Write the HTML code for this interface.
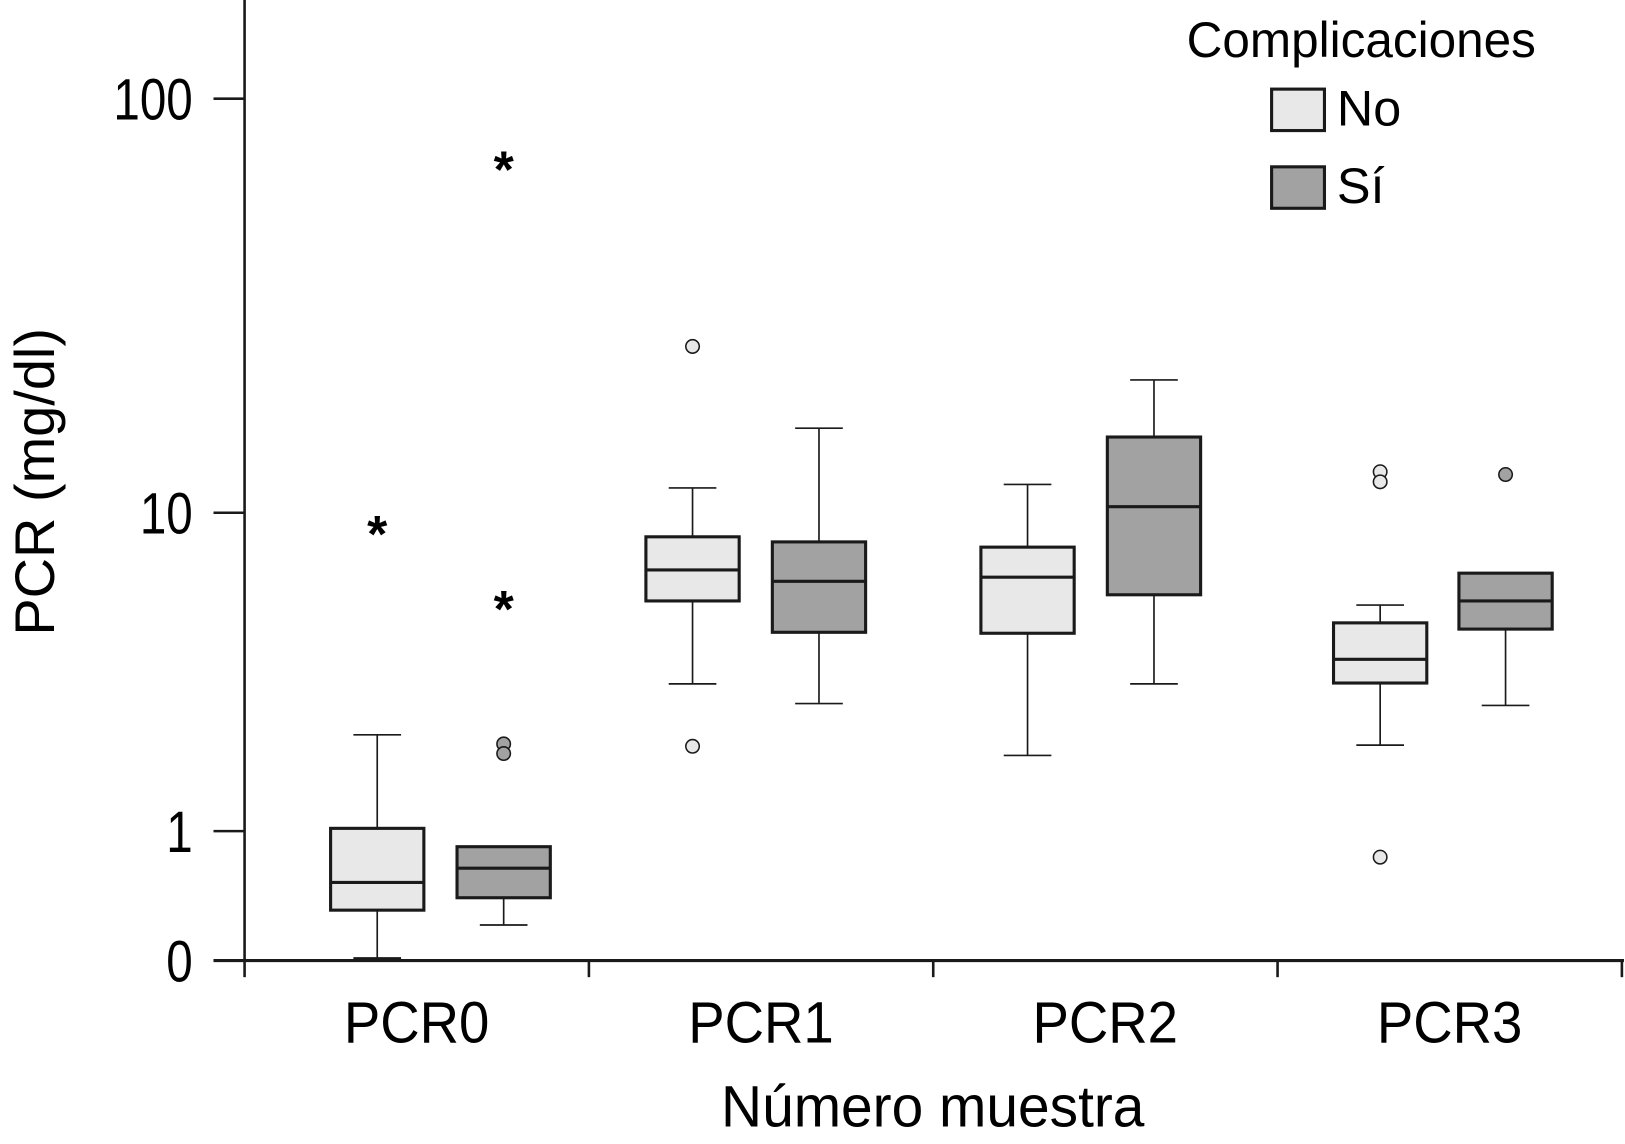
<!DOCTYPE html>
<html><head><meta charset="utf-8"><style>
html,body{margin:0;padding:0;background:#fff;}
svg{display:block;font-family:"Liberation Sans",Arial,sans-serif;}
</style></head><body>
<svg id="chart" width="1625" height="1144" viewBox="0 0 1568 1104" preserveAspectRatio="none" xmlns="http://www.w3.org/2000/svg">
<g id="axes"></g>
<g id="marks"></g>
<g id="legend">
<text x="1145" y="55" font-size="48" textLength="337" lengthAdjust="spacingAndGlyphs">Complicaciones</text>
<rect x="1227" y="86" width="51" height="40" fill="#e8e8e8" stroke="#1a1a1a" stroke-width="3"/>
<text x="1290" y="121" font-size="48" textLength="62" lengthAdjust="spacingAndGlyphs">No</text>
<rect x="1227" y="161" width="51" height="40" fill="#a2a2a2" stroke="#1a1a1a" stroke-width="3"/>
<text x="1290" y="196" font-size="48" textLength="46" lengthAdjust="spacingAndGlyphs">Sí</text>
</g>
</svg>
<script>
const categories = ["PCR0","PCR1","PCR2","PCR3"];
const seriesNames = ["No","Sí"];
// [whiskerLow, Q1, median, Q3, whiskerHigh] per category
const noBoxes = [[0.01,0.31,0.52,1.03,2.35],[3.4,5.86,7.1,8.67,11.56],[2.0,4.77,6.79,8.15,11.8],[2.17,3.42,4.02,5.1,5.71]];
const siBoxes = [[0.21,0.40,0.64,0.84,0.84],[2.96,4.8,6.62,8.41,16.3],[3.4,6.09,10.36,15.5,21.4],[2.92,4.9,5.86,6.96,6.96]];
const noCircles = [[],[25.8,2.15],[],[12.7,11.98,0.74]];
const siCircles = [[2.19,2.03],[],[],[12.5]];
const noStars = [[9.3],[],[],[]];
const siStars = [[71.5,5.9],[],[],[]];
const yTicks = [0,1,10,100];
const yTickLabels = ["0","1","10","100"];

const NS="http://www.w3.org/2000/svg";
const x0=236, xEnd=1565, base=927, band=(xEnd-x0)/4;
const noOff=[128,100,91,99], siOff=[250,222,213,220]; // layout offsets
function y(v){return base-415*Math.log10(v+1);}
function mk(t,a,p){const e=document.createElementNS(NS,t);for(const k in a)e.setAttribute(k,a[k]);p.appendChild(e);return e;}
const axes=document.getElementById('axes'), marks=document.getElementById('marks');
let e;
e=mk('line',{x1:x0,y1:0,x2:x0,y2:base,stroke:'#1a1a1a','stroke-width':2.5},axes);


e=mk('line',{x1:x0-30,y1:base,x2:xEnd+2,y2:base,stroke:'#1a1a1a','stroke-width':3},axes);


yTicks.forEach((v,i)=>{
  const yy=y(v);
  e=mk('line',{x1:x0-30,y1:yy,x2:x0,y2:yy,stroke:'#1a1a1a','stroke-width':2.5},axes);
  
  
  e=mk('text',{x:0,y:0,'font-size':56,'text-anchor':'end',transform:'translate(186,'+(yy+20)+') scale(0.82,1)'},axes);
  e.textContent=yTickLabels[i];
  
  
});
for(let i=0;i<=4;i++){
  const xx=x0+band*i;
  e=mk('line',{x1:xx,y1:base,x2:xx,y2:base+16,stroke:'#1a1a1a','stroke-width':2.5},axes);
  
  
}
categories.forEach((c,i)=>{
  e=mk('text',{x:0,y:0,'font-size':56,'text-anchor':'middle',transform:'translate('+(x0+band*i+166)+',1006) scale(0.94,1)'},axes);
  e.textContent=c;
  
  
});
e=mk('text',{x:0,y:0,'font-size':56,'text-anchor':'middle',transform:'translate(900,1087) scale(0.98,1)'},axes);
e.textContent="Número muestra";


e=mk('text',{x:0,y:0,'font-size':54,'text-anchor':'middle',transform:'translate(52,465) rotate(-90)'},axes);
e.textContent="PCR (mg/dl)";



function drawBox(d,cx,fill,name){
  const g=mk('g',{},marks);
  
  
  const w=90,cw=46;
  mk('line',{x1:cx,y1:y(d[4]),x2:cx,y2:y(d[3]),stroke:'#1a1a1a','stroke-width':1.6},g);
  mk('line',{x1:cx,y1:y(d[1]),x2:cx,y2:y(d[0]),stroke:'#1a1a1a','stroke-width':1.6},g);
  if(d[4]>d[3]) mk('line',{x1:cx-cw/2,y1:y(d[4]),x2:cx+cw/2,y2:y(d[4]),stroke:'#1a1a1a','stroke-width':1.6},g);
  mk('line',{x1:cx-cw/2,y1:y(d[0]),x2:cx+cw/2,y2:y(d[0]),stroke:'#1a1a1a','stroke-width':d[0]<0.05?3:1.6},g);
  mk('rect',{x:cx-w/2,y:y(d[3]),width:w,height:y(d[1])-y(d[3]),fill:fill,stroke:'#1a1a1a','stroke-width':3},g);
  mk('line',{x1:cx-w/2,y1:y(d[2]),x2:cx+w/2,y2:y(d[2]),stroke:'#1a1a1a','stroke-width':3},g);
}
function drawOut(vals,cx,fill,stars){
  vals.forEach(v=>{
    if(stars){
      e=mk('text',{x:cx,y:y(v)+26,'font-size':50,'font-weight':'bold','text-anchor':'middle'},marks);
      e.textContent='*';
      
      
    } else {
      e=mk('circle',{cx:cx,cy:y(v),r:6.5,fill:fill,stroke:'#1a1a1a','stroke-width':1.5},marks);
      
      
    }
  });
}
categories.forEach((c,i)=>{
  const cn=x0+band*i+noOff[i], cs=x0+band*i+siOff[i];
  drawBox(noBoxes[i],cn,'#e8e8e8','box-'+c.toLowerCase()+'-no');
  drawBox(siBoxes[i],cs,'#a2a2a2','box-'+c.toLowerCase()+'-si');
  drawOut(noCircles[i],cn,'#e8e8e8',false);
  drawOut(siCircles[i],cs,'#a2a2a2',false);
  drawOut(noStars[i],cn,null,true);
  drawOut(siStars[i],cs,null,true);
});
</script>
</body></html>
